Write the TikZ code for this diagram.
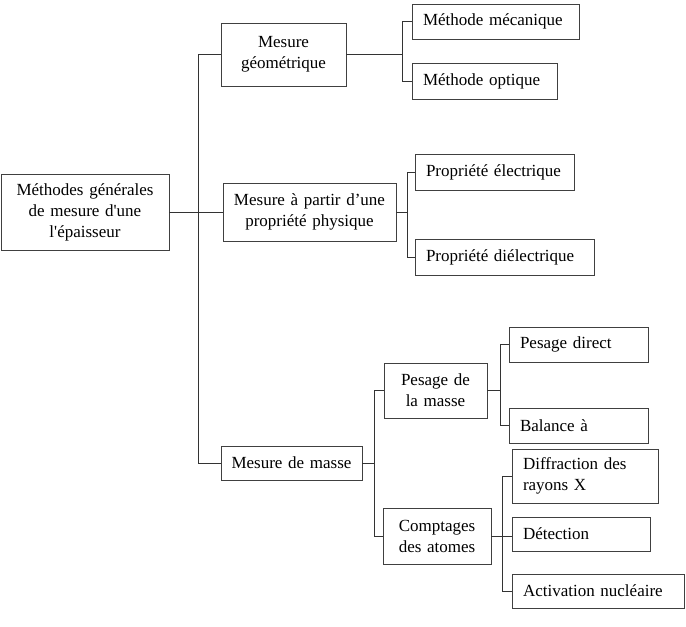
\documentclass[tikz,border=0pt]{standalone}
\usepackage{fontspec}
\setmainfont{Liberation Serif}
\usetikzlibrary{calc}
\begin{document}
\begin{tikzpicture}[x=1pt,y=-1pt,
  base/.style={draw=black!75, line width=0.9pt, inner ysep=0pt, font=\fontsize{17}{21}\selectfont},
  cbox/.style n args={3}{base, minimum width=#1pt, minimum height=#2pt, inner xsep=4pt, text width=#3pt, align=center},
  lbox/.style n args={3}{base, minimum width=#1pt, minimum height=#2pt, inner xsep=11pt, text width=#3pt, align=left},
  conn/.style={draw=black!80, line width=0.9pt}]
\useasboundingbox (0,0) rectangle (686,627);
% level 0
\node[cbox={168}{76}{160}] (root) at (85,212) {Méthodes générales\\de mesure d\textquotesingle une\\l\textquotesingle épaisseur};
% level 1
\node[cbox={125}{63}{117}] (mg) at (283.5,54.5) {Mesure\\géométrique};
\node[cbox={173}{58}{165}] (pp) at (309.5,212) {Mesure à partir d’une\\propriété physique};
\node[cbox={141}{34}{133}] (mm) at (291.5,463) {Mesure de masse};
% level 2
\node[lbox={167}{35}{145}] (mec) at (495.5,21.5) {Méthode mécanique};
\node[lbox={145}{36}{123}] (opt) at (484.5,81) {Méthode optique};
\node[lbox={159}{36}{137}] (pe) at (494.5,172) {Propriété électrique};
\node[lbox={179}{36}{157}] (pd) at (504.5,257) {Propriété diélectrique};
\node[cbox={103}{55}{95}] (pm) at (435.5,390.5) {Pesage de\\la masse};
\node[cbox={108}{56}{100}] (ca) at (437,536) {Comptages\\des atomes};
% level 3
\node[lbox={139}{35}{117}] (pdir) at (578.5,344.5) {Pesage direct};
\node[lbox={139}{35}{117}] (bal) at (578.5,425.5) {Balance à};
\node[lbox={146}{54}{124}] (dif) at (585,476) {Diffraction des\\rayons X};
\node[lbox={138}{34}{116}] (det) at (581,534) {Détection};
\node[lbox={172}{34}{150}] (act) at (598,591) {Activation nucléaire};
% connectors
\draw[conn] (root.east) -- (pp.west);
\draw[conn] (mg.west) -- ++(-22,0) |- (mm.west);
\draw[conn] (mg.east) -- ($(mg.east -| mec.west)+(-9,0)$);
\draw[conn] (mec.west) -- ++(-9,0) |- (opt.west);
\draw[conn] (pp.east) -- ($(pp.east -| pe.west)+(-7,0)$);
\draw[conn] (pe.west) -- ++(-7,0) |- (pd.west);
\draw[conn] (mm.east) -- ($(mm.east -| pm.west)+(-9,0)$);
\draw[conn] (pm.west) -- ++(-9,0) |- (ca.west);
\draw[conn] (pm.east) -- ($(pm.east -| pdir.west)+(-8,0)$);
\draw[conn] (pdir.west) -- ++(-8,0) |- (bal.west);
\draw[conn] (ca.east) -- (ca.east -| det.west);
\draw[conn] (dif.west) -- ++(-9,0) |- (act.west);
\end{tikzpicture}
\end{document}
